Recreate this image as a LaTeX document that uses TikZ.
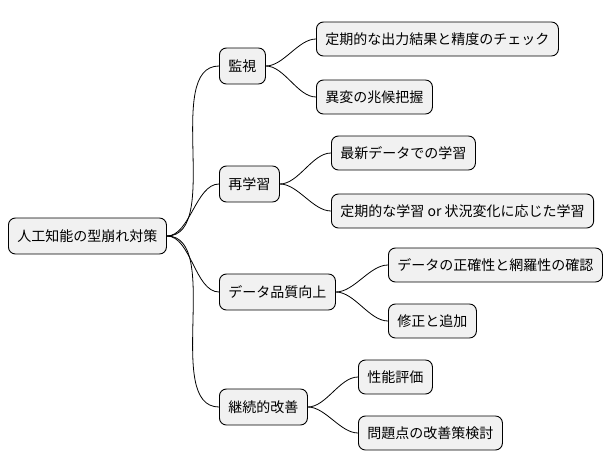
\documentclass[tikz,border=0pt]{standalone}
\usepackage{fontspec}
\newfontfamily\jp{Noto Sans CJK JP}
\begin{document}
\begin{tikzpicture}[x=1pt,y=-1pt,
 box/.style={draw=black,line width=0.9pt,fill={rgb,255:red,241;green,241;blue,241},rounded corners=7pt,minimum height=34pt,inner xsep=9pt,font=\jp\fontsize{14}{16}\selectfont,anchor=west},
 con/.style={line width=0.8pt}]
\useasboundingbox (0,0) rectangle (614,471);
\node[box,minimum height=36pt] (r) at (8,236) {人工知能の型崩れ対策};
\node[box,minimum height=36pt] (a) at (219,66) {監視};
\node[box,minimum height=36pt] (b) at (219,184) {再学習};
\node[box,minimum height=36pt] (c) at (219,292) {データ品質向上};
\node[box,minimum height=36pt] (d) at (219,407) {継続的改善};
\node[box] (a1) at (316,39) {定期的な出力結果と精度のチェック};
\node[box] (a2) at (316,97) {異変の兆候把握};
\node[box] (b1) at (331,153) {最新データでの学習};
\node[box] (b2) at (331,211) {定期的な学習 or 状況変化に応じた学習};
\node[box] (c1) at (388,265) {データの正確性と網羅性の確認};
\node[box] (c2) at (388,321) {修正と追加};
\node[box] (d1) at (358,377) {性能評価};
\node[box] (d2) at (358,433) {問題点の改善策検討};
\foreach \p/\c in {r/a,r/b,r/c,r/d,a/a1,a/a2,b/b1,b/b2,c/c1,c/c2,d/d1,d/d2}{
 \draw[con] (\p.east) to[out=0,in=180,looseness=0.8] (\c.west);
}
\end{tikzpicture}
\end{document}
